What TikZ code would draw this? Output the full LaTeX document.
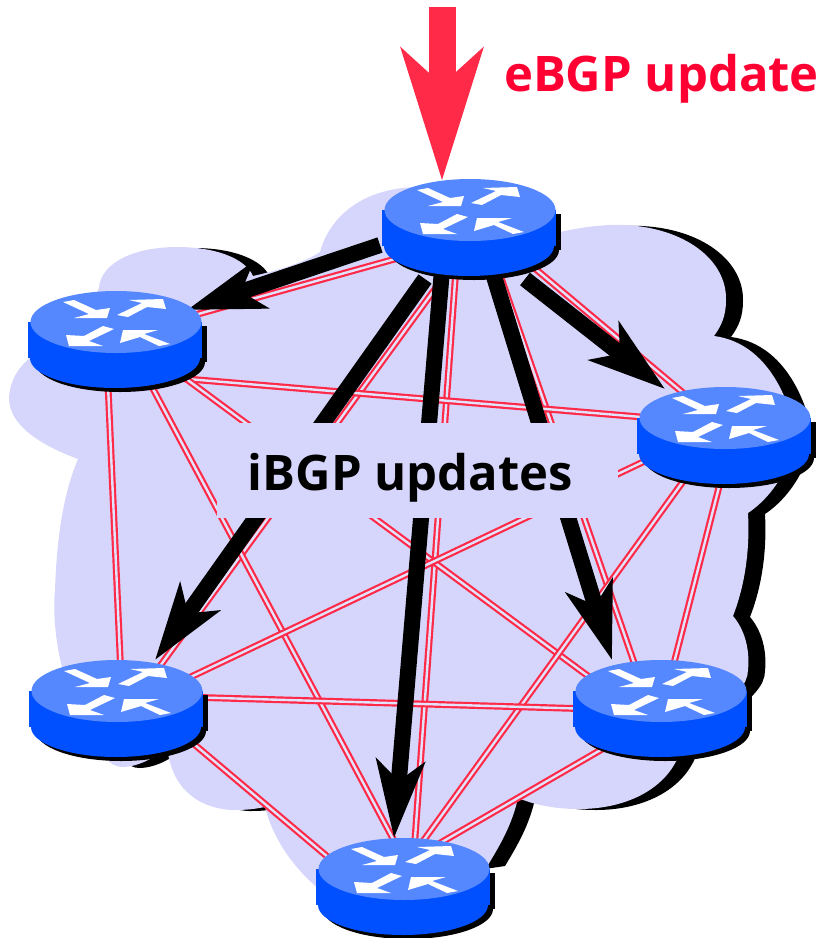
\documentclass[tikz,border=0pt]{standalone}
\usepackage{fontspec}
\setmainfont{Open Sans}
\usetikzlibrary{arrows.meta}

\definecolor{cloudfill}{HTML}{D6D6FC}
\definecolor{linkred}{HTML}{FF2A48}
\definecolor{textred}{HTML}{FF0033}
\definecolor{routertop}{HTML}{5588FF}
\definecolor{routerside}{HTML}{0050FF}

\tikzset{
	link/.style={draw=linkred,line width=2.2pt,double=white!30!cloudfill,double distance=2.4pt},
	update/.style={draw=black,line width=16pt,-{Stealth[length=77pt,width=48pt,inset=20pt]}},
	ebgp/.style={draw=linkred,line width=27pt,-{Stealth[length=131pt,width=80pt,inset=35pt]}},
	label/.style={font=\bfseries\fontsize{49}{49}\selectfont,inner sep=0pt,anchor=base},
	router/.pic={
		\fill[black,shift={(5,4)}] (-88,0) rectangle (86,36);
		\fill[black,shift={(5,4)}] (-1,36) ellipse (85 and 30);
		\fill[routerside] (-88,0) rectangle (86,36);
		\fill[routerside] (-1,36) ellipse (85 and 30);
		\fill[routertop] (0,0) ellipse (85.5 and 31);
		\fill[white] (-53,-20) -- (-42,-22) -- (-20,-12) -- (-6,-14) -- (-9,-4) -- (-42,-4) -- (-27,-8) -- cycle;
		\fill[white] (1,-7) -- (12,-5) -- (31,-15) -- (50,-13) -- (47,-23) -- (13,-22) -- (26,-19) -- cycle;
		\fill[white] (-2,7) -- (-13,4) -- (-32,14) -- (-50,13) -- (-47,24) -- (-13,24) -- (-27,19) -- cycle;
		\fill[white] (7,8) -- (42,8) -- (28,12) -- (54,22) -- (43,24) -- (24,15) -- (4,21) -- cycle;
	},
}
\def\cloudpath{(320,252) .. controls (330,215) and (365,187) .. (420,187)
	.. controls (470,187) and (510,210) .. (530,240)
	.. controls (570,228) and (600,224) .. (625,225)
	.. controls (685,228) and (727,260) .. (726,300)
	.. controls (726,315) and (722,325) .. (714,336)
	.. controls (760,342) and (785,385) .. (795,430)
	.. controls (795,460) and (775,495) .. (748,513)
	.. controls (750,550) and (745,585) .. (733,616)
	.. controls (745,630) and (750,650) .. (748,670)
	.. controls (748,700) and (690,720) .. (679,755)
	.. controls (665,790) and (625,809) .. (579,809)
	.. controls (555,809) and (535,805) .. (518,798)
	.. controls (512,825) and (500,845) .. (488,865)
	-- (320,890)
	.. controls (290,865) and (272,835) .. (265,807)
	.. controls (250,810) and (240,810) .. (232,810)
	.. controls (195,808) and (170,785) .. (167,745)
	.. controls (160,755) and (140,767) .. (122,767)
	.. controls (100,767) and (80,720) .. (62,667)
	.. controls (55,640) and (53,610) .. (55,590)
	.. controls (57,530) and (65,490) .. (78,459)
	.. controls (40,445) and (9,425) .. (9,398)
	.. controls (10,375) and (25,360) .. (40,350)
	.. controls (60,330) and (95,310) .. (99,287)
	.. controls (102,262) and (135,247) .. (177,247)
	.. controls (215,247) and (245,258) .. (253,276)
	.. controls (280,270) and (305,262) .. (320,252) -- cycle}

\begin{document}
\begin{tikzpicture}[x=1pt,y=-1pt]
	\useasboundingbox (0,0) rectangle (820,938);
	\coordinate (T) at (470,210);
	\coordinate (L) at (116,322);
	\coordinate (R) at (725,418);
	\coordinate (A) at (117,691);
	\coordinate (C) at (661,691);
	\coordinate (B) at (404,869);
	\coordinate (in) at (442,7);

	% cloud and its shadow
	\fill[black,shift={(17,1)}] \cloudpath;
	\fill[cloudfill] \cloudpath;

	% full mesh
	\draw[link] ([shift={(0,28)}]T) -- ([shift={(0,15)}]L);
	\draw[link] ([shift={(0,4)}]T) -- ([shift={(0,10)}]R);
	\draw[link] ([shift={(0,31)}]T) -- ([shift={(0,34)}]A);
	\draw[link] ([shift={(-12,30)}]T) -- ([shift={(8,11)}]B);
	\draw[link] ([shift={(18,30)}]T) -- ([shift={(-14,9)}]C);
	\draw[link] ([shift={(0,51)}]L) -- ([shift={(0,6)}]R);
	\draw[link] ([shift={(-10,18)}]L) -- ([shift={(5,9)}]A);
	\draw[link] ([shift={(11,18)}]L) -- ([shift={(11,11)}]B);
	\draw[link] ([shift={(0,5)}]L) -- ([shift={(0,39)}]C);
	\draw[link] ([shift={(0,5)}]R) -- ([shift={(0,21)}]A);
	\draw[link] ([shift={(-12,22)}]R) -- ([shift={(-9,11)}]B);
	\draw[link] ([shift={(6,22)}]R) -- ([shift={(1,19)}]C);
	\draw[link] ([shift={(0,4)}]A) -- ([shift={(0,20)}]C);
	\draw[link] ([shift={(33,16)}]A) -- ([shift={(-50,10)}]B);
	\draw[link] ([shift={(0,24)}]C) -- ([shift={(0,-5)}]B);

	% updates
	\draw[update] ([shift={(-90,35)}]T) -- ([shift={(71,-12)}]L);
	\draw[update] ([shift={(55,69)}]T) -- ([shift={(-60,-29)}]R);
	\draw[update] ([shift={(-45,69)}]T) -- ([shift={(38,-31)}]A);
	\draw[update] ([shift={(-28,60)}]T) -- ([shift={(-10,-31)}]B);
	\draw[update] ([shift={(22,60)}]T) -- ([shift={(-49,-31)}]C);
	\draw[ebgp] (in) -- ([shift={(-28,-29)}]T);

	\fill[cloudfill] (217,423) rectangle (618,518);
	\node[label,text=black] (ibgp) at (410.5,490) {iBGP updates};
	\node[label,text=textred] (eupd) at (661.5,91) {eBGP update};

	\pic at (T) {router};
	\pic at (L) {router};
	\pic at (R) {router};
	\pic at (A) {router};
	\pic at (C) {router};
	\pic at (B) {router};
\end{tikzpicture}
\end{document}
